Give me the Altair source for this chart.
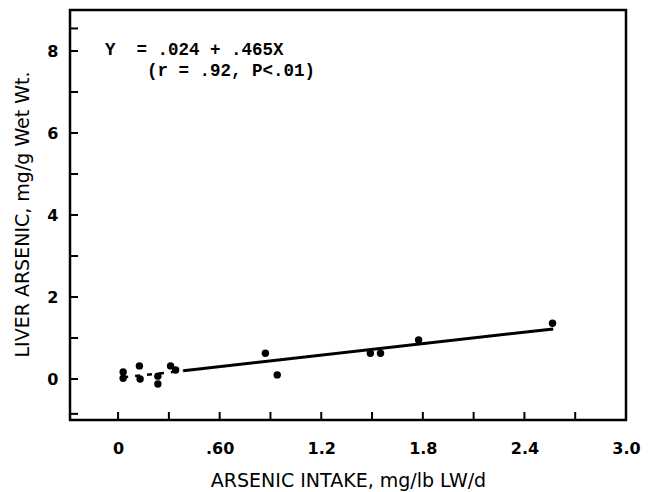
import altair as alt
import pandas as pd

# ---- data ----
pts_x = [0.03, 0.03, 0.126, 0.13, 0.235, 0.235, 0.31, 0.34,
         0.87, 0.94, 1.49, 1.55, 1.775, 2.566]
pts_y = [0.17, 0.02, 0.32, 0.00, 0.07, -0.12, 0.32, 0.22,
         0.63, 0.10, 0.63, 0.63, 0.95, 1.36]

fit_solid_x = [0.385, 2.57]
fit_solid_y = [0.20, 1.22]
fit_dash_x = [0.03, 0.385]
fit_dash_y = [0.04, 0.20]

x_minor_ticks = [0, 0.3, 0.6, 0.9, 1.2, 1.5, 1.8, 2.1, 2.4, 2.7]
y_minor_ticks = [-0.85, 0, 1, 2, 3, 4, 5, 6, 7, 8, 8.55]

x_label_values = [0, 0.6, 1.2, 1.8, 2.4, 3.0]
x_label_text = ["0", ".60", "1.2", "1.8", "2.4", "3.0"]
y_label_values = [0, 2, 4, 6, 8]

eq_line1 = "Y\u00a0\u00a0= .024 + .465X"
eq_line2 = "(r = .92, P<.01)"

x_title = "ARSENIC INTAKE, mg/lb LW/d"
y_title = "LIVER ARSENIC, mg/g Wet Wt."

# ---- build ----
label_expr = "''"
for v, t in reversed(list(zip(x_label_values, x_label_text))):
    label_expr = f"abs(datum.value - {v}) < 1e-6 ? '{t}' : ({label_expr})"

xs = alt.Scale(domain=[-0.284, 3.0], nice=False, zero=False)
ys = alt.Scale(domain=[-1, 9], nice=False, zero=False)

xaxis = alt.Axis(values=x_label_values, labelExpr=label_expr, ticks=False, domain=False,
                 grid=False, labelFont="DejaVu Sans", labelFontWeight="bold",
                 labelFontSize=16, labelColor="black", labelPadding=20,
                 labelFlush=False, labelOverlap=False,
                 title=x_title, titleFont="DejaVu Sans", titleFontSize=19,
                 titleFontWeight="normal", titleColor="black",
                 titleBaseline="alphabetic", titleY=66)
yaxis = alt.Axis(values=y_label_values, format="d", ticks=False, domain=False,
                 grid=False, labelFont="DejaVu Sans", labelFontWeight="bold",
                 labelFontSize=16, labelColor="black", labelPadding=12,
                 labelFlush=False, labelOverlap=False,
                 title=y_title, titleFont="DejaVu Sans", titleFontSize=19,
                 titleFontWeight="normal", titleColor="black",
                 titleAngle=-90, titleAlign="center", titleBaseline="middle",
                 titleX=-48, titleY=204)

pts = pd.DataFrame({"x": pts_x, "y": pts_y})
base_points = alt.Chart(pts).mark_circle(size=55, color="black", opacity=1).encode(
    x=alt.X("x:Q", scale=xs, axis=xaxis),
    y=alt.Y("y:Q", scale=ys, axis=yaxis),
)

solid = alt.Chart(pd.DataFrame({"x": fit_solid_x, "y": fit_solid_y})).mark_line(
    color="black", strokeWidth=3).encode(x=alt.X("x:Q", scale=xs), y=alt.Y("y:Q", scale=ys))
dashed = alt.Chart(pd.DataFrame({"x": fit_dash_x, "y": fit_dash_y})).mark_line(
    color="black", strokeWidth=2.5, strokeDash=[5, 7]).encode(
    x=alt.X("x:Q", scale=xs), y=alt.Y("y:Q", scale=ys))

xt = alt.Chart(pd.DataFrame({"x": x_minor_ticks})).mark_rule(color="black", strokeWidth=2).encode(
    x=alt.X("x:Q", scale=xs), y=alt.value(410), y2=alt.value(402))
yt = alt.Chart(pd.DataFrame({"y": y_minor_ticks})).mark_rule(color="black", strokeWidth=2).encode(
    y=alt.Y("y:Q", scale=ys), x=alt.value(0), x2=alt.value(8))

t1 = alt.Chart(pd.DataFrame({"t": [eq_line1]})).mark_text(
    font="Liberation Mono", fontSize=17.5, fontWeight="bold", align="left",
    baseline="middle", color="black").encode(text="t:N", x=alt.value(35), y=alt.value(40))
t2 = alt.Chart(pd.DataFrame({"t": [eq_line2]})).mark_text(
    font="Liberation Mono", fontSize=17.5, fontWeight="bold", align="left",
    baseline="middle", color="black").encode(text="t:N", x=alt.value(77), y=alt.value(61))

chart = alt.layer(xt, yt, dashed, solid, base_points, t1, t2).properties(
    width=556, height=410,
    autosize=alt.AutoSizeParams(type="none"),
    padding={"left": 70, "top": 10, "right": 25, "bottom": 72},
    background="white",
).configure_view(stroke="black", strokeWidth=2.5)

chart.save("out.html", embed_options={"renderer": "svg", "actions": False})
